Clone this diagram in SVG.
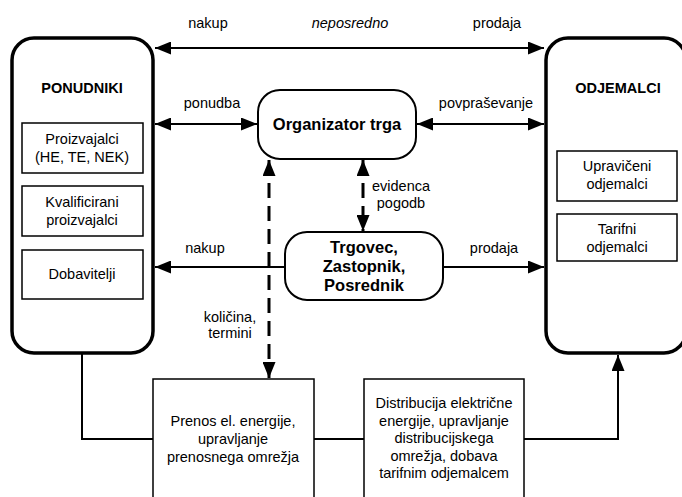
<svg xmlns="http://www.w3.org/2000/svg" width="682" height="497" viewBox="0 0 682 497">
  <defs>
    <marker id="arr" markerUnits="userSpaceOnUse" markerWidth="16" markerHeight="13" refX="16" refY="6.5" orient="auto-start-reverse" viewBox="0 0 16 13">
      <path d="M0,0 L16,6.5 L0,13 z" fill="#000"/>
    </marker>
  </defs>
  <style>
    text{font-family:"Liberation Sans",Arial,sans-serif;font-size:14.5px;fill:#000;text-anchor:middle}
    .b{font-weight:bold}
    .h{font-weight:bold;font-size:16.5px}
    .i{font-style:italic}
    .big{fill:#fff;stroke:#000;stroke-width:3.5}
    .sub{fill:#fff;stroke:#000;stroke-width:1.5}
    .hub{fill:#fff;stroke:#000;stroke-width:2}
    .ln{fill:none;stroke:#000;stroke-width:2}
    .dash{fill:none;stroke:#000;stroke-width:3;stroke-dasharray:15 8}
  </style>
  <rect width="682" height="497" fill="#fff"/>

  <!-- connectors -->
  <g id="connectors">
    <line class="ln" x1="155" y1="48" x2="544" y2="48" marker-start="url(#arr)" marker-end="url(#arr)"/>
    <line class="ln" x1="155" y1="124" x2="257" y2="124" marker-start="url(#arr)" marker-end="url(#arr)"/>
    <line class="ln" x1="417" y1="124" x2="544" y2="124" marker-start="url(#arr)" marker-end="url(#arr)"/>
    <line class="ln" x1="285" y1="267" x2="155" y2="267" marker-end="url(#arr)"/>
    <line class="ln" x1="443" y1="267" x2="544" y2="267" marker-end="url(#arr)"/>
    <line class="dash" x1="269" y1="160" x2="269" y2="378" marker-start="url(#arr)" marker-end="url(#arr)"/>
    <line class="dash" x1="363" y1="160" x2="363" y2="231" marker-start="url(#arr)" marker-end="url(#arr)"/>
    <polyline class="ln" points="82,353 82,439 153,439"/>
    <line class="ln" x1="314" y1="439" x2="364" y2="439"/>
    <polyline class="ln" points="524,439 618,439 618,355" marker-end="url(#arr)"/>
  </g>

  <!-- connector labels -->
  <g id="labels">
    <text x="208" y="28">nakup</text>
    <text class="i" x="350" y="28">neposredno</text>
    <text x="497" y="28">prodaja</text>
    <text x="212" y="108">ponudba</text>
    <text x="486" y="108">povpraševanje</text>
    <text x="401" y="191">evidenca</text>
    <text x="401" y="208">pogodb</text>
    <text x="205" y="253">nakup</text>
    <text x="494" y="253">prodaja</text>
    <text x="230" y="322">količina,</text>
    <text x="230" y="338">termini</text>
  </g>

  <!-- suppliers -->
  <g id="ponudniki">
    <rect class="big" x="12" y="38" width="141" height="315" rx="22"/>
    <text class="b" x="82" y="93">PONUDNIKI</text>
    <rect class="sub" x="22" y="123" width="121" height="50"/>
    <text x="82" y="144">Proizvajalci</text>
    <text x="82" y="162">(HE, TE, NEK)</text>
    <rect class="sub" x="22" y="186" width="121" height="50"/>
    <text x="82" y="207">Kvalificirani</text>
    <text x="82" y="225">proizvajalci</text>
    <rect class="sub" x="22" y="250" width="121" height="49"/>
    <text x="82" y="279">Dobavitelji</text>
  </g>

  <!-- customers -->
  <g id="odjemalci">
    <rect class="big" x="546" y="38" width="140" height="315" rx="22"/>
    <text class="b" x="618" y="93">ODJEMALCI</text>
    <rect class="sub" x="557" y="151" width="120" height="50"/>
    <text x="617" y="171">Upravičeni</text>
    <text x="617" y="189">odjemalci</text>
    <rect class="sub" x="557" y="214" width="120" height="47"/>
    <text x="617" y="234">Tarifni</text>
    <text x="617" y="252">odjemalci</text>
  </g>

  <!-- market operator -->
  <g id="organizator">
    <rect class="hub" x="258" y="90" width="158" height="69" rx="22"/>
    <text class="h" x="337" y="130">Organizator trga</text>
  </g>

  <!-- traders -->
  <g id="trgovec">
    <rect class="hub" x="285" y="232" width="158" height="68" rx="22"/>
    <text class="h" x="364" y="253">Trgovec,</text>
    <text class="h" x="364" y="272">Zastopnik,</text>
    <text class="h" x="364" y="291">Posrednik</text>
  </g>

  <!-- transmission -->
  <g id="prenos">
    <rect class="sub" x="153" y="379" width="161" height="130"/>
    <text x="233" y="426">Prenos el. energije,</text>
    <text x="233" y="444">upravljanje</text>
    <text x="233" y="462">prenosnega omrežja</text>
  </g>

  <!-- distribution -->
  <g id="distribucija">
    <rect class="sub" x="364" y="379" width="160" height="130"/>
    <text x="444" y="408">Distribucija električne</text>
    <text x="444" y="426">energije, upravljanje</text>
    <text x="444" y="443">distribucijskega</text>
    <text x="444" y="461">omrežja, dobava</text>
    <text x="444" y="478">tarifnim odjemalcem</text>
  </g>
</svg>
